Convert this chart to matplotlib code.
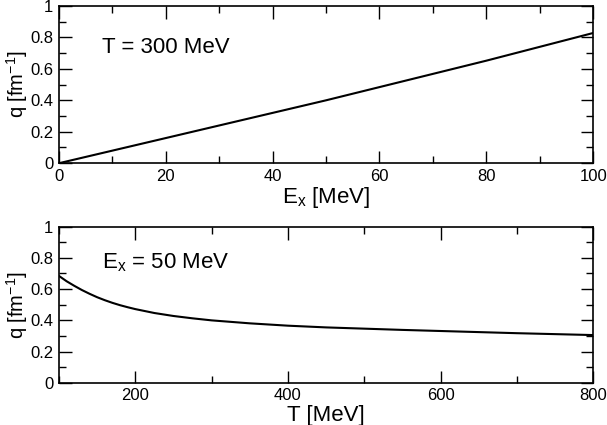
import matplotlib
matplotlib.use("Agg")
import matplotlib.pyplot as plt
from matplotlib.ticker import MultipleLocator

plt.rcParams['font.family'] = ['Liberation Sans', 'DejaVu Sans']

# Top panel: q vs excitation energy at T = 300 MeV
ex = [0, 10, 20, 30, 40, 50, 60, 70, 80, 90, 100]
q_ex = [0.0, 0.080, 0.160, 0.240, 0.320, 0.400, 0.484, 0.568, 0.652, 0.740, 0.828]

# Bottom panel: q vs temperature at E_x = 50 MeV
temp = [100, 110, 120, 130, 140, 150, 160, 170, 180, 190, 200, 225, 250, 275, 300,
        350, 400, 450, 500, 550, 600, 650, 700, 750, 800]
q_t = [0.684, 0.650, 0.621, 0.594, 0.570, 0.548, 0.529, 0.512, 0.497, 0.484,
       0.472, 0.447, 0.428, 0.413, 0.400, 0.381, 0.366, 0.355, 0.347, 0.339,
       0.332, 0.325, 0.318, 0.312, 0.306]

fig = plt.figure(figsize=(6.07, 4.25), dpi=100)
ax1 = fig.add_axes([0.0972, 0.616, 0.880, 0.370])
ax2 = fig.add_axes([0.0972, 0.099, 0.880, 0.368])


def style(ax):
    ax.tick_params(which='both', direction='in', top=True, right=True, labelsize=12)
    ax.tick_params(which='major', length=9, width=1, pad=4)
    ax.tick_params(which='minor', length=5, width=1)
    for s in ax.spines.values():
        s.set_linewidth(1.2)
    ax.set_ylim(0, 1)
    ax.set_yticks([0, 0.2, 0.4, 0.6, 0.8, 1])
    ax.set_yticklabels(['0', '0.2', '0.4', '0.6', '0.8', '1'])
    ax.yaxis.set_minor_locator(MultipleLocator(0.1))
    ax.set_ylabel('q [fm$^{\\mathregular{-1}}$]', fontsize=14.5)
    ax.yaxis.set_label_coords(-0.054, 0.5)


ax1.plot(ex, q_ex, color='black', lw=1.5)
ax1.set_xlim(0, 100)
ax1.xaxis.set_major_locator(MultipleLocator(20))
ax1.xaxis.set_minor_locator(MultipleLocator(10))
style(ax1)
ax1.set_xlabel('E$_\\mathregular{x}$ [MeV]', fontsize=16, labelpad=1)
ax1.text(8, 0.70, 'T = 300 MeV', fontsize=16)

ax2.plot(temp, q_t, color='black', lw=1.5)
ax2.set_xlim(100, 800)
ax2.xaxis.set_major_locator(MultipleLocator(200))
ax2.xaxis.set_minor_locator(MultipleLocator(100))
style(ax2)
ax2.set_xlabel('T [MeV]', fontsize=16, labelpad=1)
ax2.text(156, 0.73, 'E$_\\mathregular{x}$ = 50 MeV', fontsize=16)

fig.savefig('out.png', dpi=100)
